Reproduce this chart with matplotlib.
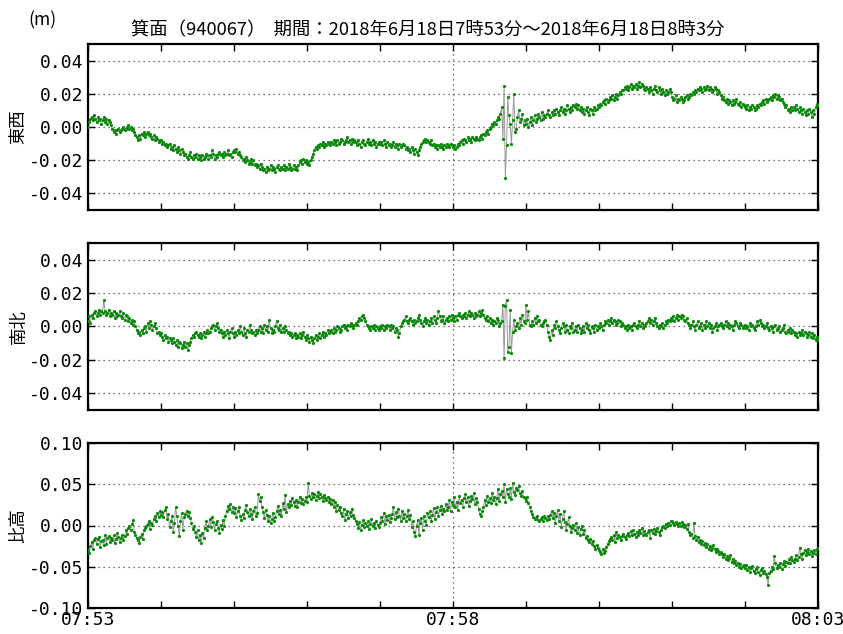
import matplotlib
matplotlib.use("Agg")
import matplotlib.pyplot as plt
import numpy as np
from matplotlib.ticker import FixedLocator, FuncFormatter, MultipleLocator

plt.rcParams['font.family'] = ['Noto Sans CJK JP', 'DejaVu Sans']

# time axis: one sample per second from 07:53:00 to 08:03:00 (seconds after 07:53)
title = "箕面（940067）  期間：2018年6月18日7時53分～2018年6月18日8時3分"
panel_labels = ["東西", "南北", "比高"]
x_tick_labels = ["07:53", "07:58", "08:03"]
x_tick_secs = [0, 300, 600]

# displacements in millimetres (converted to metres when plotted)
ew_mm = [
    0,3,5,6,4,7,5,3,6,4,5,2,4,6,3,5,2,4,3,1,
    -1,-3,-2,-4,-2,-1,-3,-2,-1,0,-2,-1,0,1,-1,0,-2,-1,-3,-5,
    -6,-8,-5,-7,-4,-5,-3,-6,-4,-3,-5,-4,-6,-7,-5,-8,-6,-7,-9,-8,
    -8,-10,-9,-11,-10,-12,-11,-10,-13,-12,-14,-11,-13,-15,-12,-14,-16,-13,-15,-17,
    -16,-18,-19,-17,-15,-18,-19,-17,-18,-16,-19,-17,-18,-20,-17,-19,-18,-16,-17,-19,
    -17,-18,-14,-16,-19,-17,-18,-16,-15,-17,-16,-18,-15,-17,-16,-14,-17,-16,-18,-15,
    -14,-15,-13,-16,-15,-17,-18,-20,-19,-21,-18,-20,-22,-21,-19,-22,-20,-23,-22,-24,
    -23,-25,-22,-24,-26,-25,-27,-24,-26,-25,-23,-26,-24,-25,-27,-24,-23,-25,-26,-24,
    -25,-23,-26,-24,-25,-22,-24,-26,-25,-23,-25,-24,-26,-23,-21,-20,-22,-19,-21,-20,
    -22,-21,-23,-20,-18,-16,-14,-12,-13,-11,-12,-10,-11,-9,-12,-10,-11,-9,-10,-11,
    -9,-10,-8,-9,-11,-8,-10,-9,-7,-8,-10,-9,-8,-6,-9,-8,-10,-7,-9,-8,
    -9,-11,-8,-10,-12,-9,-8,-10,-11,-9,-7,-10,-9,-11,-8,-10,-9,-12,-10,-9,
    -10,-9,-11,-8,-10,-12,-9,-11,-10,-12,-11,-9,-12,-10,-11,-13,-10,-12,-11,-10,
    -11,-13,-12,-14,-13,-15,-12,-14,-16,-13,-15,-17,-14,-12,-10,-9,-8,-7,-9,-8,
    -9,-10,-8,-11,-10,-12,-11,-13,-11,-12,-10,-12,-13,-11,-12,-10,-11,-12,-10,-11,
    -12,-11,-13,-12,-10,-11,-9,-8,-10,-7,-8,-9,-6,-8,-7,-9,-6,-7,-8,-6,
    -7,-8,-6,-5,-7,-4,-5,-3,-2,-4,-1,0,2,1,3,2,4,6,5,8,
    12,-7,25,-31,-11,18,7,2,-10,4,20,-3,-1,6,10,3,5,8,1,4,
    2,5,0,3,6,1,4,7,3,5,8,6,4,9,5,7,6,8,10,7,
    6,9,7,10,8,11,9,7,10,12,9,11,8,10,13,11,9,12,10,13,
    12,14,11,13,10,12,9,11,8,10,12,9,7,11,10,8,12,10,11,13,
    12,14,13,15,16,14,17,15,16,18,17,19,16,18,20,17,19,21,20,22,
    22,24,23,25,22,24,26,23,25,24,26,23,25,27,24,26,25,23,22,24,
    23,21,24,22,20,23,25,22,21,24,22,20,23,21,19,22,20,21,23,21,
    18,16,17,19,15,17,16,18,17,15,16,18,19,17,18,20,19,21,20,22,
    21,23,22,24,23,21,24,22,23,25,22,24,23,21,22,24,23,20,22,21,
    19,17,18,16,15,17,14,16,15,13,16,14,15,17,14,13,15,12,14,13,
    12,11,13,10,12,11,13,12,10,11,13,12,14,13,15,16,14,17,15,16,
    17,18,16,19,18,20,17,19,18,16,17,15,14,12,13,10,11,9,12,10,
    12,10,13,11,9,12,10,8,11,9,7,10,8,11,9,6,10,8,12,14,
    13,
]

ns_mm = [
    3,6,2,7,5,8,9,6,8,10,7,9,8,16,9,7,8,10,6,8,
    7,9,5,8,6,7,9,6,5,8,4,7,6,3,5,2,4,1,3,0,
    -2,-4,-3,-5,-2,-4,-1,0,-3,2,-1,3,1,-2,0,2,-1,-4,-3,-5,
    -4,-6,-8,-5,-7,-6,-9,-7,-8,-10,-7,-9,-11,-8,-12,-9,-10,-13,-11,-9,
    -12,-10,-14,-11,-9,-7,-5,-6,-4,-3,-5,-6,-4,-7,-5,-3,-6,-4,-2,-4,
    -3,-1,0,1,-2,0,2,-1,-3,-2,-4,-6,-3,-5,-2,-4,-7,-3,-1,-4,
    -6,-3,-5,-2,-4,0,-3,-5,-1,-4,-6,-2,-3,1,-2,-4,-3,-5,-2,-4,
    -2,0,-3,-1,-4,1,-2,0,-3,4,-1,-4,-2,-3,0,3,-1,-2,1,-3,
    -1,-3,0,-2,-4,-3,-5,-4,-6,-5,-4,-7,-5,-6,-4,-7,-5,-3,-6,-8,
    -5,-7,-9,-6,-8,-10,-7,-5,-8,-6,-4,-7,-5,-3,-6,-4,-5,-2,-4,-3,
    -2,-4,-1,-3,-2,0,-1,-3,-2,0,1,-1,0,-2,1,0,2,1,-1,1,
    2,1,3,5,4,6,7,5,3,1,0,-1,-2,0,-1,1,-2,0,-1,-2,
    0,-1,1,-2,0,-1,1,0,-2,1,-1,0,-3,-1,-2,-6,-4,0,2,3,
    4,6,3,2,4,5,3,1,4,2,3,5,7,4,2,0,3,5,2,4,
    1,3,5,2,6,4,2,5,9,6,3,4,6,2,4,5,3,6,4,7,
    5,3,6,4,7,8,6,5,7,6,8,5,7,9,6,8,7,5,8,6,
    7,9,6,8,10,7,5,4,6,3,5,2,4,1,3,2,5,4,0,2,
    3,13,-19,12,16,-15,-12,10,-16,-3,4,-2,0,2,-1,5,1,7,3,2,
    13,4,9,1,0,3,1,5,2,6,3,4,1,0,2,3,4,1,-3,-6,
    -8,-2,-5,1,-1,3,0,-2,-4,-1,2,0,-3,1,-2,-4,0,-1,2,-3,
    -2,0,-3,1,-1,-4,-2,0,-3,2,-1,1,-2,-4,0,-1,-3,1,-2,0,
    -1,2,0,-2,1,3,2,4,1,3,5,2,4,3,1,2,4,3,0,2,
    1,-1,0,-2,1,-1,0,-2,1,2,0,-1,1,3,0,2,-1,1,0,2,
    3,5,2,4,1,3,5,2,0,-1,1,0,2,-1,1,3,2,4,3,5,
    4,6,3,5,7,4,6,5,7,6,4,3,5,2,1,-1,1,3,0,-2,
    1,3,-1,0,2,-2,1,-1,3,0,2,-1,1,-3,-1,0,2,-2,0,1,
    2,0,-1,1,3,0,2,-1,1,0,-2,1,3,2,0,-1,2,1,-1,0,
    1,-1,0,-2,2,0,1,-1,-2,0,3,1,4,2,0,1,-1,0,2,-1,
    -2,0,-1,-3,0,1,-2,-1,0,-3,-2,-1,1,-3,-4,-2,-3,-1,-4,-2,
    -3,-5,-4,-6,-3,-5,-4,-2,-5,-3,-4,-6,-5,-3,-6,-4,-7,-5,-8,-6,
    -8,
]

ud_mm = [
    -30,-33,-25,-20,-28,-18,-15,-22,-16,-14,-26,-19,-17,-24,-12,-22,-15,-13,-20,-15,
    -18,-12,-21,-16,-9,-14,-20,-15,-11,-17,-13,-6,-10,-3,0,-5,2,7,-8,-12,
    -15,-18,-21,-14,-10,-16,-6,-3,0,2,5,-4,3,1,8,12,6,15,10,18,
    13,16,10,19,22,8,14,-2,5,11,-8,3,22,12,0,-13,6,15,-5,10,
    14,18,11,16,9,3,-4,-1,-8,-14,-6,-18,-12,-21,-9,-15,-3,5,-6,0,
    8,-2,10,4,-5,2,6,-3,-9,1,-4,7,-1,12,18,24,20,26,16,22,
    15,21,10,18,23,12,7,14,9,19,25,16,11,20,14,8,17,22,12,15,
    38,30,34,22,16,9,19,13,5,12,3,8,15,6,10,18,24,14,19,11,
    27,20,37,16,26,22,30,25,33,28,24,31,23,29,35,27,32,26,30,34,
    28,52,36,32,40,34,38,31,36,41,33,38,35,30,37,33,31,35,29,32,
    26,31,22,28,17,25,19,23,15,12,20,7,14,18,9,16,11,20,13,9,
    6,2,-3,4,-5,1,7,-2,3,0,5,-4,2,8,-1,3,-3,6,1,-2,
    3,10,6,15,2,11,7,13,4,9,14,23,8,16,10,20,12,6,17,9,
    14,6,11,19,8,13,-2,5,-8,-13,0,7,-11,3,9,-5,12,6,1,15,
    10,18,5,13,21,8,16,22,11,19,24,14,20,17,26,19,22,31,18,28,
    25,34,22,29,19,36,27,31,23,33,38,28,35,24,30,36,32,39,26,33,
    28,20,14,11,17,22,31,25,36,29,33,27,40,31,35,26,33,44,30,38,
    42,34,50,28,44,38,35,46,32,52,41,37,45,43,48,39,36,42,35,33,
    30,34,27,22,18,14,10,8,9,11,7,5,8,10,6,12,9,7,11,8,
    13,17,9,15,3,12,19,6,14,-2,8,18,4,-5,2,10,-1,-8,-3,1,
    -5,3,-9,-2,-12,-4,0,-10,-6,-15,-13,-18,-20,-16,-22,-19,-25,-28,-24,-27,
    -30,-32,-35,-29,-33,-31,-26,-22,-19,-16,-14,-18,-12,-20,-8,-15,-11,-14,-17,-13,
    -10,-14,-16,-12,-9,-13,-7,-11,-5,-10,-14,-8,-12,-6,-9,-3,-11,-7,-10,-12,
    -8,-5,-15,-6,-9,-4,-10,-7,-3,-8,-11,-5,-2,0,-3,2,-1,3,1,5,
    6,3,1,4,2,-1,3,0,4,2,-2,1,-4,2,-8,-12,-10,-15,3,-13,
    -18,-14,-20,-17,-22,-19,-24,-21,-26,-23,-28,-25,-30,-27,-24,-29,-32,-28,-31,-34,
    -32,-35,-38,-34,-40,-37,-42,-39,-36,-44,-41,-46,-43,-48,-45,-50,-47,-52,-49,-48,
    -51,-48,-54,-50,-56,-52,-49,-55,-58,-53,-50,-56,-60,-54,-52,-57,-55,-59,-62,-72,
    -58,-55,-50,-53,-37,-46,-52,-48,-50,-45,-53,-47,-43,-49,-44,-46,-41,-45,-38,-42,
    -44,-40,-36,-42,-38,-27,-35,-40,-33,-30,-36,-32,-28,-34,-31,-37,-33,-30,-35,-29,
    -27,
]

series = [ew_mm, ns_mm, ud_mm]
ylims = [(-0.05, 0.05), (-0.05, 0.05), (-0.10, 0.10)]
yticks = [[-0.04, -0.02, 0.0, 0.02, 0.04],
          [-0.04, -0.02, 0.0, 0.02, 0.04],
          [-0.10, -0.05, 0.0, 0.05, 0.10]]

W, H = 843, 634
fig = plt.figure(figsize=(W / 100, H / 100), dpi=100)

panel_px = [(44, 210), (243, 410), (443, 608)]
left_px, right_px = 88, 818

for k, (top, bot) in enumerate(panel_px):
    ax = fig.add_axes([left_px / W, 1 - bot / H, (right_px - left_px) / W, (bot - top) / H])
    vals = np.array(series[k], dtype=float) / 1000.0
    t = np.arange(len(vals))
    ax.plot(t, vals, '-', color='#999999', lw=0.7, zorder=2)
    ax.plot(t, vals, 'o', color='#0a8a0a', ms=2.3, mew=0, zorder=3)
    ax.set_xlim(0, 600)
    ax.set_ylim(*ylims[k])
    ax.yaxis.set_major_locator(FixedLocator(yticks[k]))
    ax.yaxis.set_major_formatter(FuncFormatter(lambda v, p: ("%.2f" % v).replace('\u2212', '-')))
    ax.xaxis.set_major_locator(FixedLocator(x_tick_secs))
    ax.xaxis.set_minor_locator(MultipleLocator(60))
    if k == 2:
        ax.set_xticklabels(x_tick_labels)
    else:
        ax.set_xticklabels([])
    ax.tick_params(axis='both', which='both', direction='in', top=True, right=True,
                   length=5, width=1, colors='black')
    for lab in ax.get_yticklabels() + ax.get_xticklabels():
        lab.set_fontfamily('DejaVu Sans Mono')
        lab.set_fontsize(13)
    ax.tick_params(axis='x', pad=2)
    ax.grid(True, which='major', axis='both', color='#444444', linestyle=(0, (1, 3)), lw=0.9)
    for s in ax.spines.values():
        s.set_linewidth(1.6)
    ax.set_ylabel(panel_labels[k], fontsize=12.5)
    ax.yaxis.set_label_coords(-0.083, 0.5)

fig.text(428 / W, 1 - 30 / H, title, ha='center', va='center', fontsize=13.2)
fig.text(42 / W, 1 - 20 / H, "(m)", ha='center', va='center', fontsize=12.5)

fig.savefig("out.png", dpi=100)
